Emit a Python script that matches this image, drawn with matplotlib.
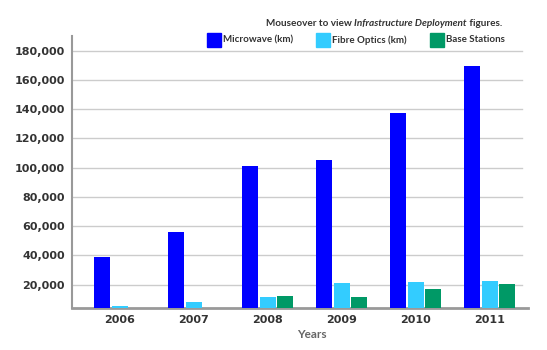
import matplotlib.pyplot as plt
from matplotlib.patches import Rectangle
from matplotlib.ticker import FuncFormatter
import numpy as np

years = ['2006', '2007', '2008', '2009', '2010', '2011']
microwave = [38700, 56200, 101200, 105200, 137300, 169200]
fibre = [5600, 8400, 11600, 21000, 21700, 22600]
base_stations = [0, 0, 12100, 11600, 16900, 20500]

series_names = ['Microwave (km)', 'Fibre Optics (km)', 'Base Stations']
colors = ['#0000ff', '#33ccff', '#009966']

W, H = 547, 350
fig = plt.figure(figsize=(W / 100, H / 100), dpi=100)
ax = fig.add_axes([72 / W, 1 - 308 / H, (528 - 72) / W, (308 - 36) / H])

x = np.arange(len(years))
bw = 0.216
step = 0.239
for i, (vals, c) in enumerate(zip([microwave, fibre, base_stations], colors)):
    ax.bar(x + (i - 1) * step, vals, width=bw, color=c, zorder=3)

ax.set_xlim(-0.645, 5.52)
ax.set_ylim(4100, 190000)
ax.set_yticks(range(20000, 180001, 20000))
ax.yaxis.set_major_formatter(FuncFormatter(lambda v, p: f'{int(v):,}'))
ax.set_xticks(x)
ax.set_xticklabels(years)

# gridlines stop a little before the right end
for v in range(20000, 180001, 20000):
    ax.plot([-0.645, 5.44], [v, v], color='#cccccc', lw=1, zorder=1)

for s in ['top', 'right']:
    ax.spines[s].set_visible(False)
ax.spines['left'].set_color('#999999')
ax.spines['left'].set_linewidth(1.5)
ax.spines['bottom'].set_color('#999999')
ax.spines['bottom'].set_linewidth(2)

ax.tick_params(length=0, labelsize=8, labelcolor='#333333')
ax.tick_params(axis='y', pad=5)
ax.tick_params(axis='x', pad=5)
for lbl in ax.get_xticklabels() + ax.get_yticklabels():
    lbl.set_fontweight('bold')

fig.text(312 / W, 1 - 334 / H, 'Years', ha='center', va='center',
         fontsize=8.5, color='#666666', family='Lato', fontweight='bold')

# header text, built right to left
hdr = dict(fontsize=7.2, color='#333333', family='Lato', fontweight='bold')
t1 = fig.text(502 / W, 1 - 24 / H, ' figures.', ha='right', va='center', **hdr)
t2 = ax.annotate('Infrastructure Deployment', xy=(0, 0), xycoords=t1,
                 ha='right', va='bottom', style='italic',
                 annotation_clip=False, **hdr)
ax.annotate('Mouseover to view ', xy=(0, 0), xycoords=t2,
            ha='right', va='bottom', annotation_clip=False, **hdr)

# legend
sq_x = [207, 316, 430]
for sx, name, c in zip(sq_x, series_names, colors):
    fig.add_artist(Rectangle((sx / W, 1 - 47 / H), 14 / W, 14 / H,
                             transform=fig.transFigure, color=c))
    fig.text((sx + 16) / W, 1 - 40 / H, name, ha='left', va='center',
             fontsize=7, color='#333333', family='Lato', fontweight='bold')

fig.savefig('out.png', dpi=100)
